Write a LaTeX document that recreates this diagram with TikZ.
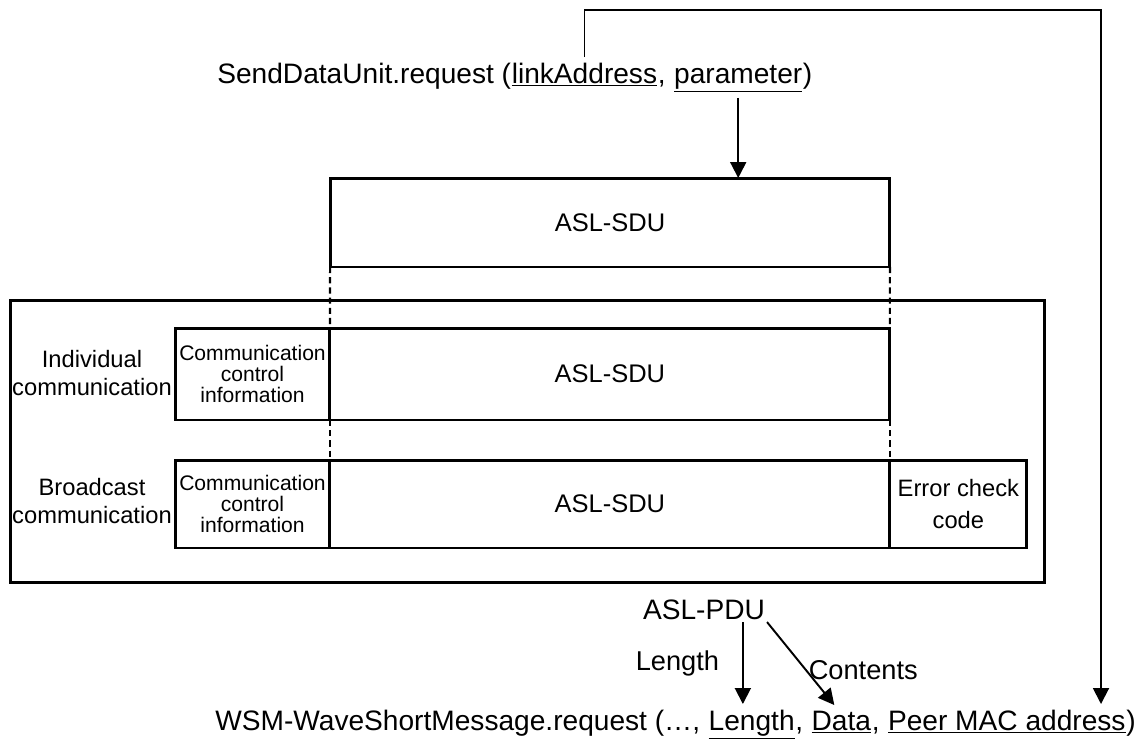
\documentclass[tikz,border=0pt]{standalone}
\usepackage{fontspec}
\setmainfont{Liberation Sans}
\usetikzlibrary{arrows.meta,positioning}
\tikzset{
  fbox/.style    = {draw, line width=1.7pt, inner sep=0pt, outer sep=0pt, align=center},
  arr/.style     = {-{Triangle[length=3.2mm,width=3.2mm]}, line width=1.1pt},
  dashln/.style  = {dash pattern=on 3.5pt off 2.3pt, line width=1.2pt},
  bigtxt/.style  = {inner xsep=0pt, inner ysep=3pt, anchor=base west,
                    font=\fontsize{16}{19}\selectfont},
  sdutxt/.style  = {font=\fontsize{14.5}{17}\selectfont},
  lbltxt/.style  = {align=center, inner sep=1pt, font=\fontsize{13.5}{16}\selectfont},
  arrlbl/.style  = {inner sep=1pt, font=\fontsize{15.5}{18}\selectfont},
  ccitxt/.style  = {font=\fontsize{12}{12}\selectfont}
}

\begin{document}
\begin{tikzpicture}[x=0.02cm,y=-0.02cm]
  \useasboundingbox (0,0) rectangle (1139,747);

  % primitive from the upper layer
  \node[bigtxt] (sdreq) at (217,83) {SendDataUnit.request (};
  \node[bigtxt] (lnk)   at (sdreq.base east) {\underline{linkAddress}};
  \node[bigtxt] (sdcom) at (lnk.base east) {,\ \null};
  \node[bigtxt] (par)   at (sdcom.base east) {\underline{parameter}};
  \node[bigtxt] (sdend) at (par.base east) {)};

  % service data unit
  \node[fbox, sdutxt, minimum width=11.2cm, minimum height=1.78cm]
        (sdu) at (610,222.5) {ASL-SDU};
  \draw[arr] (par.south) -- (par.south |- sdu.north);

  % protocol data unit, two formats
  \node[fbox, minimum width=20.7cm, minimum height=5.66cm] (outer) at (527.5,441.5) {};
  \node[fbox, ccitxt, minimum width=3.1cm, minimum height=1.84cm]
        (icci) at (252.5,374) {Communication\\control\\information};
  \node[fbox, sdutxt, minimum width=11.2cm, minimum height=1.84cm, anchor=west]
        (isdu) at (icci.east) {ASL-SDU};
  \node[fbox, ccitxt, minimum width=3.1cm, minimum height=1.76cm]
        (bcci) at (252.5,504) {Communication\\control\\information};
  \node[fbox, sdutxt, minimum width=11.2cm, minimum height=1.76cm, anchor=west]
        (bsdu) at (bcci.east) {ASL-SDU};
  \node[fbox, font=\fontsize{13.5}{18}\selectfont, minimum width=2.74cm,
        minimum height=1.76cm, anchor=west] (becc) at (bsdu.east) {Error check\\code};
  \node[lbltxt] (ilbl) at (92,373) {Individual\\communication};
  \node[lbltxt] (blbl) at (92,501) {Broadcast\\communication};

  \draw[dashln] (sdu.south west) -- (isdu.north west);
  \draw[dashln] (sdu.south east) -- (isdu.north east);
  \draw[dashln] (isdu.south west) -- (bsdu.north west);
  \draw[dashln] (isdu.south east) -- (bsdu.north east);

  \node[inner sep=1pt, font=\fontsize{16}{19}\selectfont] (pdu) at (704,610) {ASL-PDU};

  % primitive to the lower layer
  \node[bigtxt] (wsm)  at (215,730) {WSM-WaveShortMessage.request (\ldots,\ \null};
  \node[bigtxt] (wlen) at (wsm.base east) {\underline{Length}};
  \node[bigtxt] (wc1)  at (wlen.base east) {,\ \null};
  \node[bigtxt] (wdat) at (wc1.base east) {\underline{Data}};
  \node[bigtxt] (wc2)  at (wdat.base east) {,\ \null};
  \node[bigtxt] (wpma) at (wc2.base east) {\underline{Peer MAC address}};
  \node[bigtxt] (wend) at (wpma.base east) {)};

  \draw[arr] ([xshift=-5pt]wlen.north |- pdu.south) -- ([xshift=-5pt]wlen.north)
        node[midway, left=12pt, arrlbl] (lenlbl) {Length};
  \draw[arr] (pdu.south east) -- ([xshift=-4pt]wdat.north)
        node[pos=0.58, anchor=west, arrlbl] (conlbl) {Contents};

  \coordinate (turn) at (1101,10);
  \draw[arr] (lnk.north) |- (turn) -- (turn |- wpma.north);
\end{tikzpicture}
\end{document}
